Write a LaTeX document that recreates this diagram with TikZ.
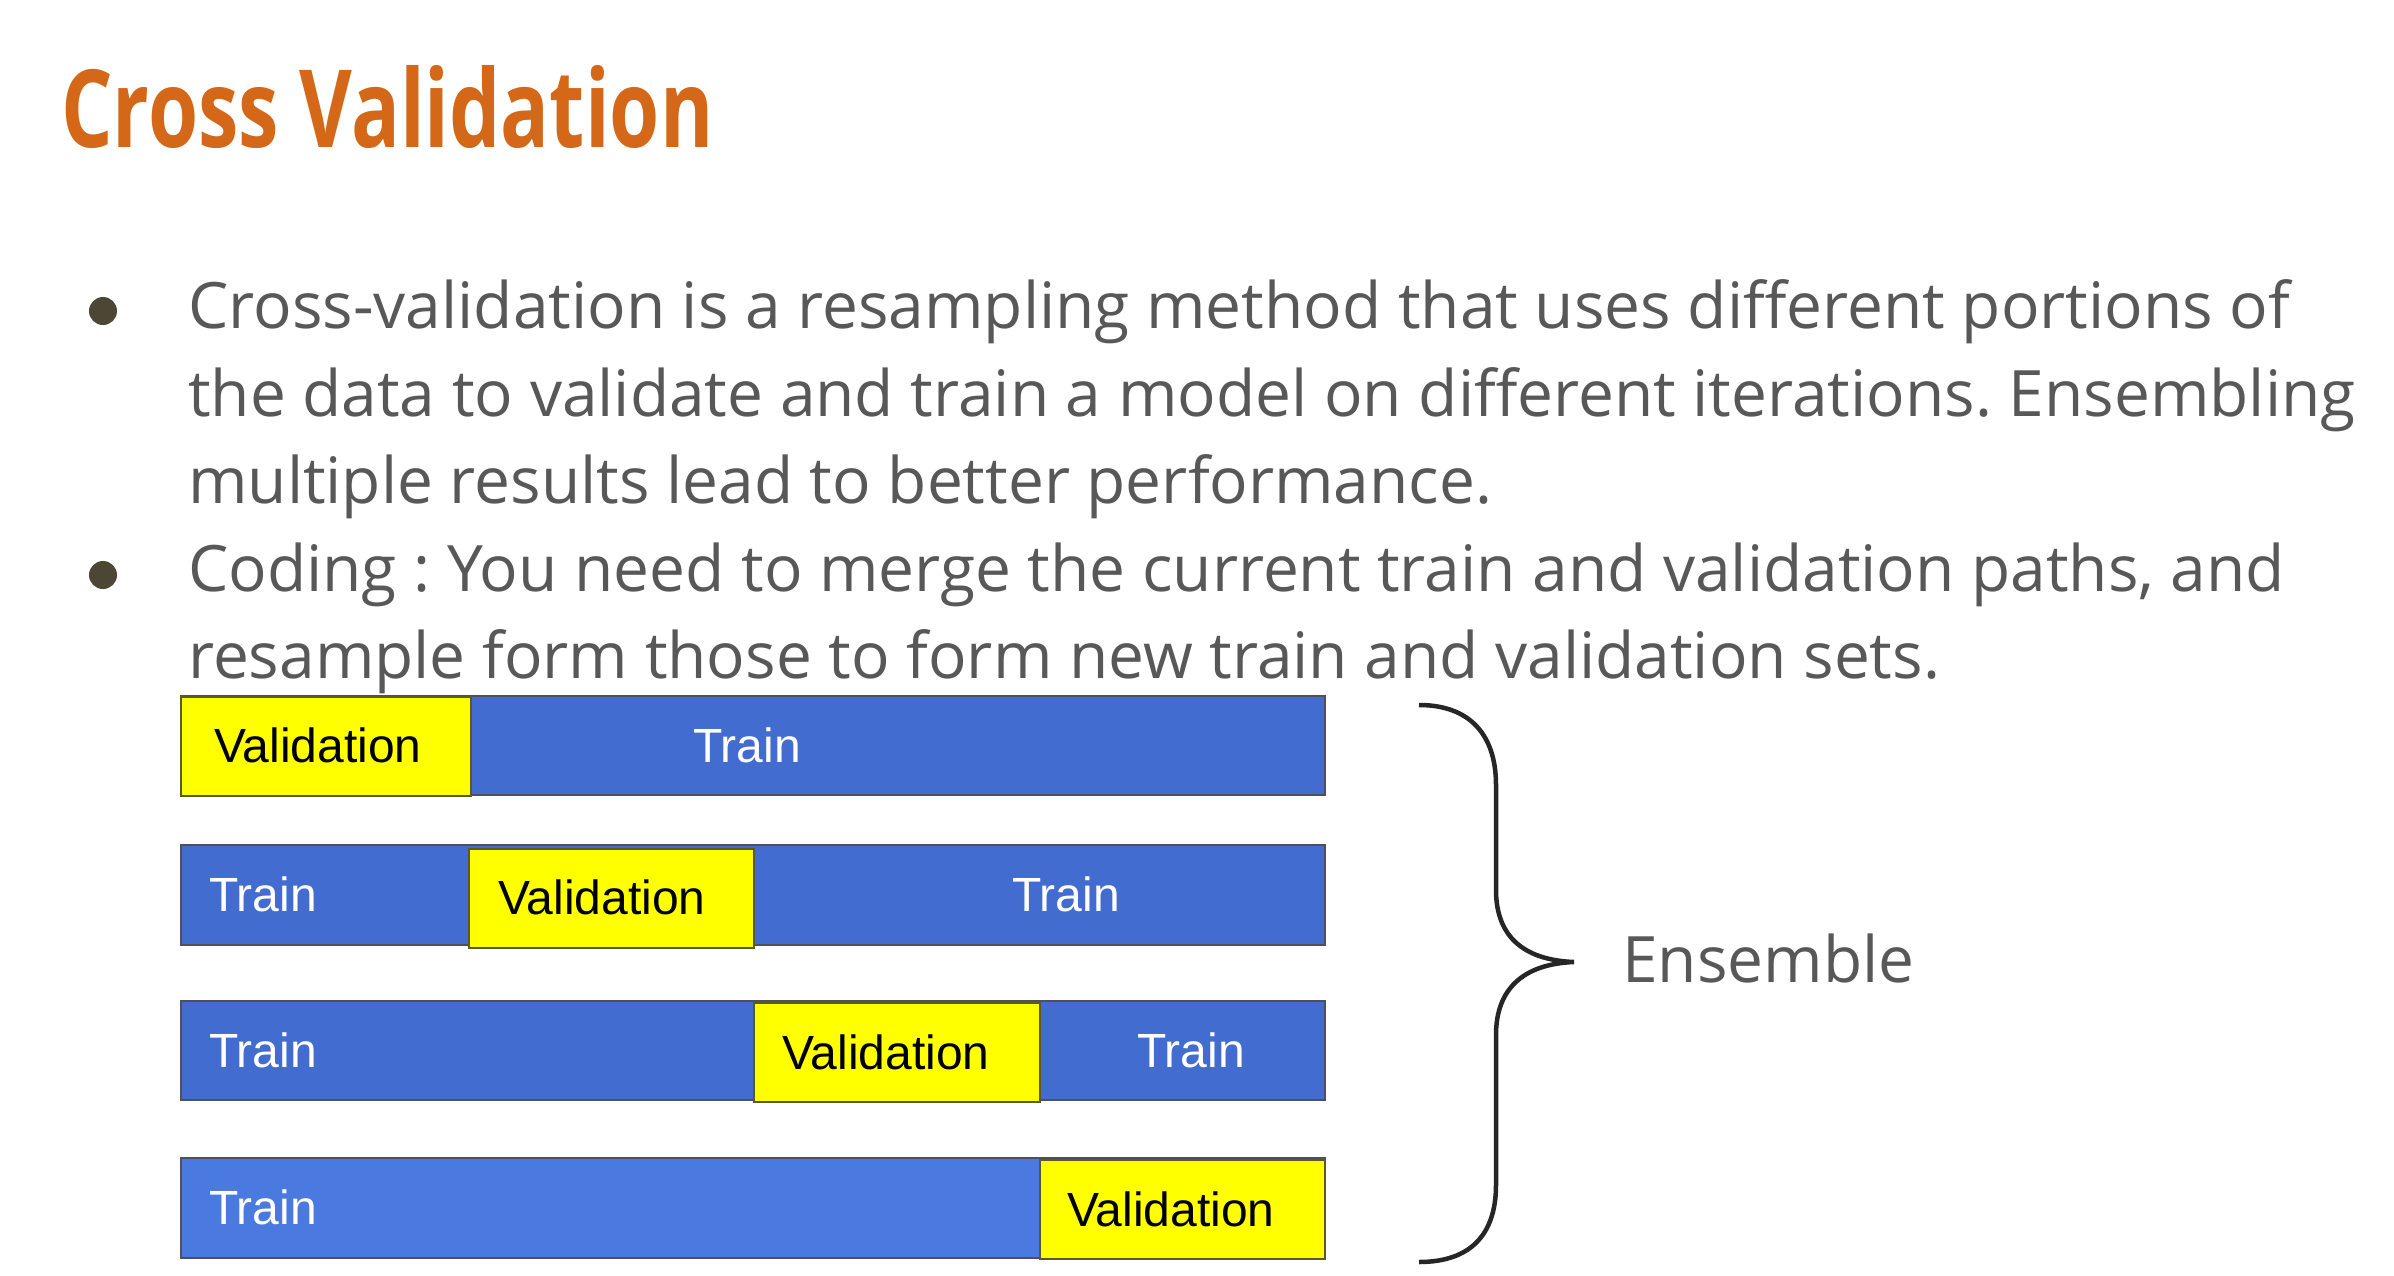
\documentclass[tikz,border=0pt]{standalone}
\usepackage{fontspec}
\setmainfont{Open Sans}
\newfontfamily\arialf{Liberation Sans}
\definecolor{titlec}{RGB}{212,104,24}
\definecolor{textc}{RGB}{88,88,88}
\definecolor{bulc}{RGB}{76,70,52}
\definecolor{cvblue}{RGB}{66,108,208}
\definecolor{cvblueb}{RGB}{74,122,224}
\definecolor{cvyellow}{RGB}{255,255,0}
\definecolor{barline}{RGB}{80,80,90}
\definecolor{valline}{RGB}{90,90,40}
\frenchspacing
\begin{document}
\begin{tikzpicture}[x=1pt,y=-1pt,
  bar/.style={rectangle, draw=barline, line width=2pt, inner sep=0pt, anchor=north west},
  bluebar/.style={bar, fill=cvblue},
  valbar/.style={bar, fill=cvyellow, draw=valline},
  lab/.style={inner sep=0pt, font=\arialf\fontsize{48}{56}\selectfont},
  vlab/.style={lab, text=black},
  tlab/.style={lab, text=white},
  line/.style={inner sep=0pt, anchor=base west, text=textc, font=\fontsize{64}{76}\selectfont},
  bul/.style={circle, fill=bulc, minimum size=28pt, inner sep=0pt}
]
\useasboundingbox (0,0) rectangle (2394,1275);
\fill[white] (0,0) rectangle (2394,1275);

% title
\node[inner sep=0pt, anchor=base west, text=titlec] (title) at (61,147)
  {\resizebox{652pt}{82pt}{\bfseries Cross Validation}};

% bullets and text
\node[bul] (bul1) at (103,311) {};
\node[bul] (bul2) at (103,575) {};
\node[line] (l1) at (188,328) {Cross-validation is a resampling method that uses different portions of};
\node[line] (l2) at (188,416) {the data to validate and train a model on different iterations. Ensembling};
\node[line] (l3) at (188,503) {multiple results lead to better performance.};
\node[line] (l4) at (188,591) {Coding : You need to merge the current train and validation paths, and};
\node[line] (l5) at (188,678) {resample form those to form new train and validation sets.};

% bar 1
\node[bluebar, minimum width=1144pt, minimum height=99pt] (b1) at (180,695) {};
\node[valbar, minimum width=290pt, minimum height=99pt] (v1) at (180,696) {};
\node[vlab] (v1t) at (318,745) {Validation};
\node[tlab] (t1a) at (747,745) {Train};

% bar 2
\node[bluebar, minimum width=1144pt, minimum height=100pt] (b2) at (180,844) {};
\node[valbar, minimum width=285pt, minimum height=99pt] (v2) at (468,848) {};
\node[tlab, anchor=west] (t2a) at (209,894) {Train};
\node[vlab] (v2t) at (602,897) {Validation};
\node[tlab] (t2b) at (1066,894) {Train};

% bar 3
\node[bluebar, minimum width=1144pt, minimum height=99pt] (b3) at (180,1000) {};
\node[valbar, minimum width=286pt, minimum height=99pt] (v3) at (753,1002) {};
\node[tlab, anchor=west] (t3a) at (209,1050) {Train};
\node[vlab] (v3t) at (886,1052) {Validation};
\node[tlab] (t3b) at (1191,1050) {Train};

% bar 4
\node[bar, fill=cvblueb, minimum width=1144pt, minimum height=100pt] (b4) at (180,1157) {};
\node[valbar, minimum width=285pt, minimum height=99pt] (v4) at (1039,1159) {};
\node[tlab, anchor=west] (t4a) at (209,1207) {Train};
\node[vlab] (v4t) at (1171,1209) {Validation};

% brace
\coordinate (btop) at (1419,705);
\coordinate (btip) at (1574,962);
\coordinate (bbot) at (1419,1262);
\draw[line width=4.5pt, black!85] (btop) .. controls (1470,705) and (1496,735) .. (1496,785)
  -- (1496,890) .. controls (1496,935) and (1522,960) .. (btip)
  .. controls (1522,964) and (1496,990) .. (1496,1035)
  -- (1496,1185) .. controls (1496,1235) and (1470,1262) .. (bbot);

\node[inner sep=0pt, anchor=base west, text=textc, font=\fontsize{64}{76}\selectfont] (ens) at (1622,982) {Ensemble};
\end{tikzpicture}
\end{document}
